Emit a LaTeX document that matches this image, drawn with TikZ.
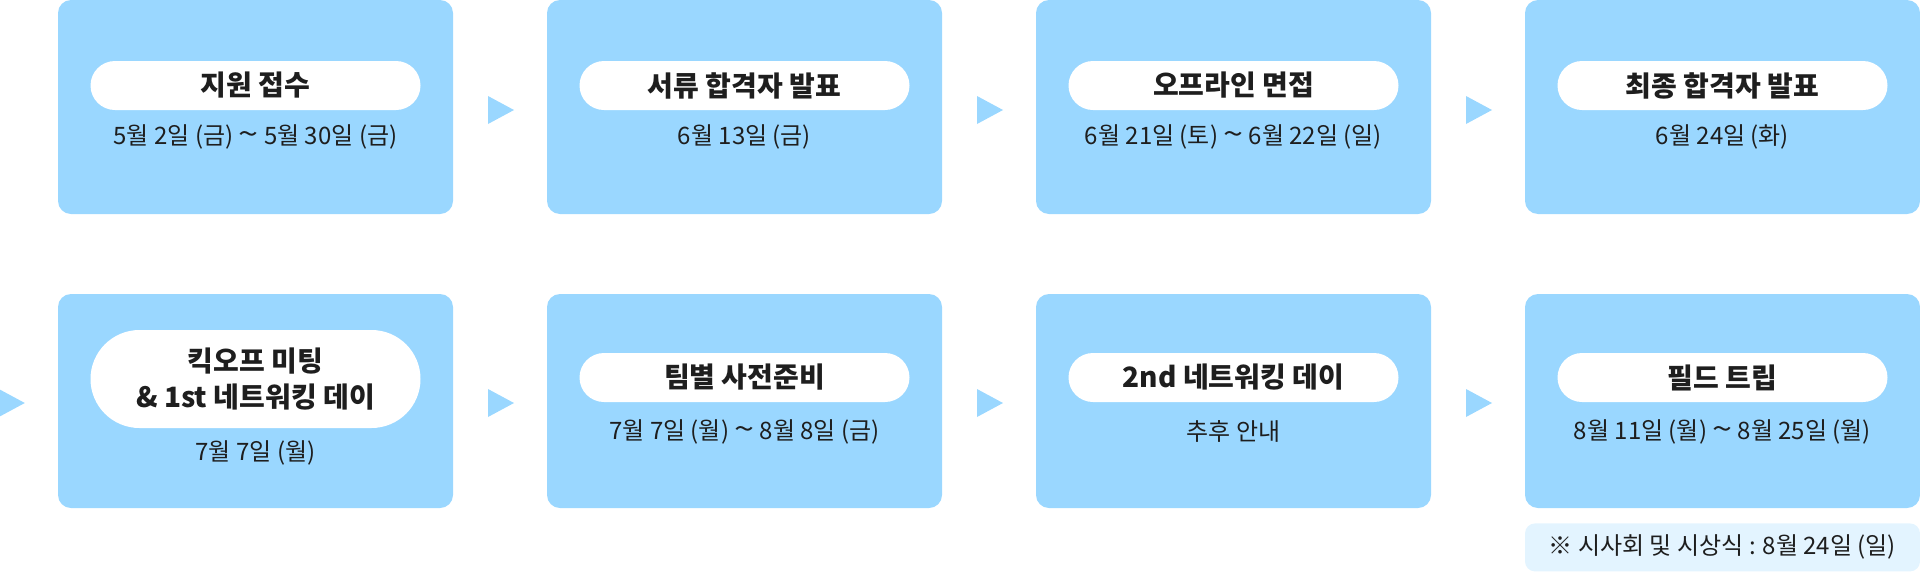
\documentclass[tikz,border=0pt]{standalone}
\usepackage{fontspec}
\setmainfont{Noto Sans CJK KR}
\usetikzlibrary{positioning,calc}
\definecolor{cardblue}{HTML}{9AD7FF}
\definecolor{notebg}{HTML}{E3F4FF}
\definecolor{inkdark}{HTML}{1E1E1E}
\newcommand{\wave}{\scalebox{1.5}[1.2]{\textasciitilde}}

\begin{document}
\begin{tikzpicture}[x=1pt,y=-1pt,
  card/.style={fill=cardblue, rounded corners=13pt, minimum width=395pt, minimum height=214pt, inner sep=0pt},
  pill/.style={fill=white, rounded corners=24.5pt, minimum width=330pt, minimum height=49pt, inner sep=0pt, text=inkdark, font=\fontsize{28}{34}\selectfont\bfseries},
  datetext/.style={inner sep=0pt, text=inkdark, font=\fontsize{24}{28}\selectfont},
  tri/.style={fill=cardblue}]
\useasboundingbox (0,0) rectangle (1920,571);
\node[card] (apply) at (255.5,107) {};
\node[card] (docs) at (744.5,107) {};
\node[card] (interview) at (1233.5,107) {};
\node[card] (final) at (1722.5,107) {};
\node[card] (kickoff) at (255.5,401) {};
\node[card] (prep) at (744.5,401) {};
\node[card] (network) at (1233.5,401) {};
\node[card] (trip) at (1722.5,401) {};
\node[pill, below=61pt of apply.north] (applyt) {지원 접수};
\node[pill, below=61pt of docs.north] (docst) {서류 합격자 발표};
\node[pill, below=61pt of interview.north] (interviewt) {오프라인 면접};
\node[pill, below=61pt of final.north] (finalt) {최종 합격자 발표};
\node[pill, below=36pt of kickoff.north, rounded corners=49pt, minimum height=98pt, align=center, font=\fontsize{28}{36}\selectfont\bfseries] (kickofft) {킥오프 미팅\\\& 1st 네트워킹 데이};
\node[pill, below=59pt of prep.north] (prept) {팀별 사전준비};
\node[pill, below=59pt of network.north] (networkt) {2nd 네트워킹 데이};
\node[pill, below=59pt of trip.north] (tript) {필드 트립};
\node[datetext] (applyd) at ($(apply.north)+(0,137)$) {5월 2일 (금) \wave{} 5월 30일 (금)};
\node[datetext] (docsd) at ($(docs.north)+(0,137)$) {6월 13일 (금)};
\node[datetext] (interviewd) at ($(interview.north)+(0,137)$) {6월 21일 (토) \wave{} 6월 22일 (일)};
\node[datetext] (finald) at ($(final.north)+(0,137)$) {6월 24일 (화)};
\node[datetext] (kickoffd) at ($(kickoff.north)+(0,159)$) {7월 7일 (월)};
\node[datetext] (prepd) at ($(prep.north)+(0,138)$) {7월 7일 (월) \wave{} 8월 8일 (금)};
\node[datetext] (networkd) at ($(network.north)+(0,138)$) {추후 안내};
\node[datetext] (tripd) at ($(trip.north)+(0,138)$) {8월 11일 (월) \wave{} 8월 25일 (월)};
\node[fill=notebg, rounded corners=10pt, minimum width=395pt, minimum height=48pt, inner sep=0pt, text=inkdark, font=\fontsize{24}{28}\selectfont, below=15pt of trip.south] (note) {※ 시사회 및 시상식 : 8월 24일 (일)};
\fill[tri] ($(apply.east)!0.5!(docs.west)+(-12,-11)$) -- ++(26,14) -- ++(-26,14) -- cycle;
\fill[tri] ($(docs.east)!0.5!(interview.west)+(-12,-11)$) -- ++(26,14) -- ++(-26,14) -- cycle;
\fill[tri] ($(interview.east)!0.5!(final.west)+(-12,-11)$) -- ++(26,14) -- ++(-26,14) -- cycle;
\fill[tri] ($(kickoff.west)+(-59,-12)$) -- ++(26,14) -- ++(-26,14) -- cycle;
\fill[tri] ($(kickoff.east)!0.5!(prep.west)+(-12,-12)$) -- ++(26,14) -- ++(-26,14) -- cycle;
\fill[tri] ($(prep.east)!0.5!(network.west)+(-12,-12)$) -- ++(26,14) -- ++(-26,14) -- cycle;
\fill[tri] ($(network.east)!0.5!(trip.west)+(-12,-12)$) -- ++(26,14) -- ++(-26,14) -- cycle;
\end{tikzpicture}
\end{document}
